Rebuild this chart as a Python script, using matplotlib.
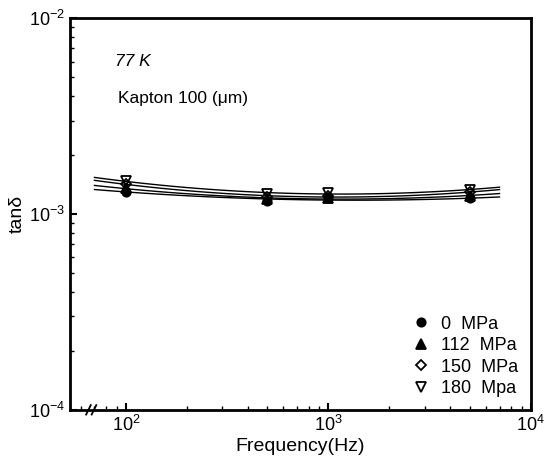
import numpy as np
import matplotlib
matplotlib.use("Agg")
import matplotlib.pyplot as plt

plt.rcParams['font.family'] = ['Liberation Sans', 'DejaVu Sans']

freq = [100, 500, 1000, 5000]
labels = ['0  MPa', '112  MPa', '150  MPa', '180  Mpa']
tan_0 = [1.30e-3, 1.17e-3, 1.20e-3, 1.20e-3]
tan_112 = [1.35e-3, 1.19e-3, 1.21e-3, 1.24e-3]
tan_150 = [1.42e-3, 1.22e-3, 1.24e-3, 1.29e-3]
tan_180 = [1.47e-3, 1.27e-3, 1.28e-3, 1.33e-3]
fit_range = [70, 7000]

series = [tan_0, tan_112, tan_150, tan_180]
markers = [('o', 'k'), ('^', 'k'), ('D', 'none'), ('v', 'none')]
msizes = [6, 7, 5, 7]

fig = plt.figure(figsize=(5.49, 4.76), dpi=100)
ax = fig.add_axes([0.1275, 0.139, 0.8395, 0.823])

lx = np.log10(freq)
xf = np.logspace(np.log10(fit_range[0]), np.log10(fit_range[1]), 100)
for vals, (m, fc), ms, lab in zip(series, markers, msizes, labels):
    # smooth fitted curve through each set of points
    p = np.polyfit(lx, np.log10(vals), 2)
    ax.plot(xf, 10 ** np.polyval(p, np.log10(xf)), color='k', lw=1.0)
    ax.plot(freq, vals, ls='none', marker=m, ms=ms, mfc=fc, mec='k', mew=1.3, label=lab)

ax.set_xscale('log')
ax.set_yscale('log')
ax.set_xlim(53, 1e4)
ax.set_ylim(1e-4, 1e-2)
ax.tick_params(which='both', direction='in', top=False, right=False, labelsize=13)
ax.tick_params(which='major', length=5, width=1.5)
ax.tick_params(which='minor', length=3, width=1)
for s in ax.spines.values():
    s.set_linewidth(2)

ax.set_xlabel('Frequency(Hz)', fontsize=14, labelpad=2)
ax.set_ylabel('tan\u03b4', fontsize=14, labelpad=2)

ax.text(0.098, 0.888, '77 K', transform=ax.transAxes, fontsize=12.5, style='italic', va='center')
ax.text(0.104, 0.796, 'Kapton 100 (\u03bcm)', transform=ax.transAxes, fontsize=12.5, va='center')

# axis break mark
for dx in (0, 0.012):
    ax.plot([0.035 + dx, 0.045 + dx], [-0.012, 0.012], transform=ax.transAxes,
            color='k', lw=1.3, clip_on=False)

ax.legend(loc='lower right', frameon=False, fontsize=13, handletextpad=0.5,
          borderaxespad=0.3, labelspacing=0.25, handlelength=1.2)

fig.savefig('out.png', dpi=100)
